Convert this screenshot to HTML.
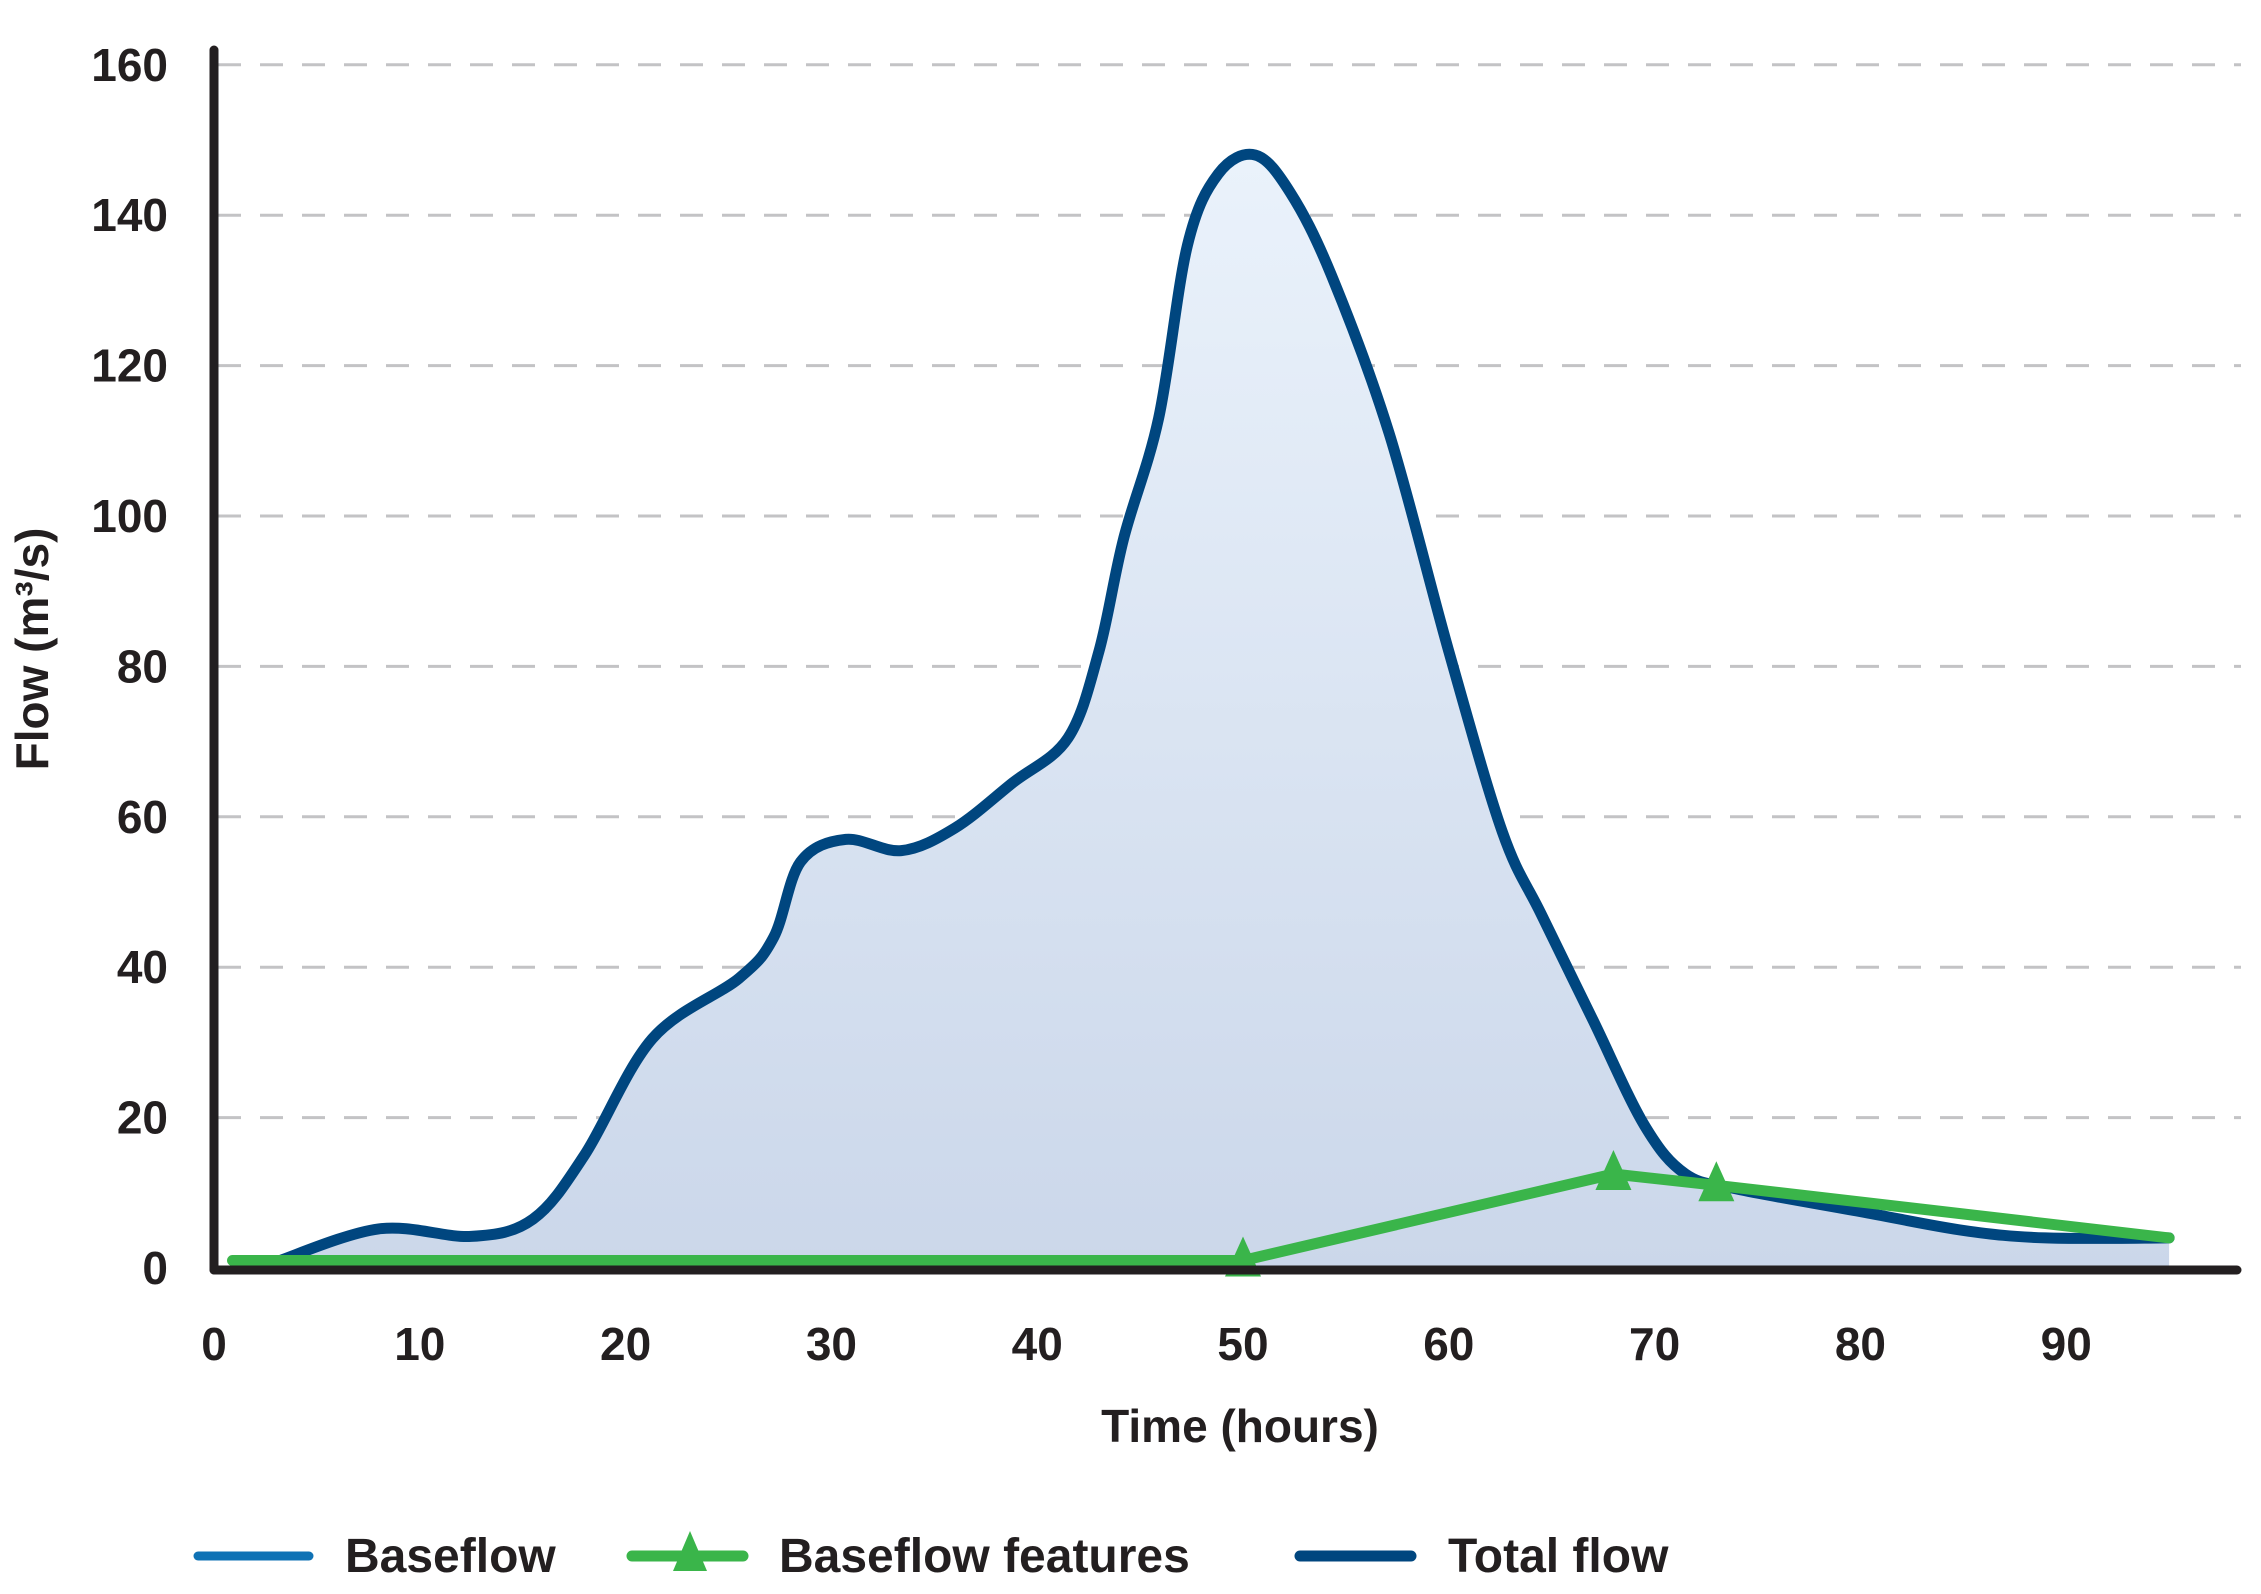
<!DOCTYPE html>
<html><head><meta charset="utf-8"><style>
html,body{margin:0;padding:0;background:#fff}
svg{display:block}
text{font-family:"Liberation Sans",sans-serif;fill:#231f20;font-weight:bold}
</style></head><body>
<svg id="chart" width="2261" height="1594" viewBox="0 0 2261 1594">
<defs>
<linearGradient id="fillGrad" x1="0" y1="0" x2="0" y2="1">
<stop offset="0" stop-color="#eaf2fb"/><stop offset="1" stop-color="#cbd7ea"/>
</linearGradient>
</defs>
<g id="grid"></g>
<path id="area" fill="url(#fillGrad)"/>
<path id="total" fill="none" stroke="#00467f" stroke-width="11" stroke-linejoin="round" stroke-linecap="round"/>
<path id="base" fill="none" stroke="#3ab54a" stroke-width="11" stroke-linejoin="round" stroke-linecap="round"/>
<g id="markers"></g>
<line x1="214" y1="50" x2="214" y2="1270" stroke="#231f20" stroke-width="9" stroke-linecap="round"/>
<line x1="214" y1="1270" x2="2237" y2="1270" stroke="#231f20" stroke-width="9" stroke-linecap="round"/>
<g id="yticks"></g>
<g id="xticks"></g>
<text x="1240" y="1442" font-size="46" text-anchor="middle">Time (hours)</text>
<text transform="translate(48,649) rotate(-90)" font-size="46" text-anchor="middle">Flow (m³/s)</text>
<g>
<g>
<line x1="198" y1="1556" x2="309" y2="1556" stroke="#0f72b5" stroke-width="9" stroke-linecap="round"/>
<text x="345" y="1572" font-size="48">Baseflow</text></g>
<g>
<line x1="632" y1="1556" x2="743" y2="1556" stroke="#3ab54a" stroke-width="11" stroke-linecap="round"/>
<polygon points="690,1531 707,1571 673,1571" fill="#3ab54a"/>
<text x="779" y="1572" font-size="48">Baseflow features</text></g>
<g>
<line x1="1300" y1="1556" x2="1411" y2="1556" stroke="#00467f" stroke-width="11" stroke-linecap="round"/>
<text x="1448" y="1572" font-size="48">Total flow</text></g>
</g>
</svg>
<script>
const totalT = [3,8,12.5,15.5,18,21.3,25.5,27.2,28.5,30.7,33.4,36,38.8,41.5,43,44.2,45.9,47.3,48.8,50.6,52.3,54.3,57.1,60,62.6,64.5,67,69.5,71.5,74,80,85,89,95];
const totalV = [0.8,5.2,4.2,6.5,15,30.5,38.5,44,54,57,55.5,58.5,64.5,70.5,82,97,113,136,145.5,148,143,132,111,82,58,47,33,19,12.5,10.5,7.5,5,4,4];
const baseT = [0.9,50,68,73,95];
const baseV = [1,1,12.5,11,4];
const markerT = [50,68,73];
const markerV = [1,12.5,11];
const yTicks = [0,20,40,60,80,100,120,140,160];
const xTicks = [0,10,20,30,40,50,60,70,80,90];

const X = t => 214 + t*20.58;
const Y = v => 1268 - v*7.52;
const NS='http://www.w3.org/2000/svg';

function smooth(px){
  let d='M'+px[0][0]+','+px[0][1];
  for(let i=0;i<px.length-1;i++){
    const p0=px[Math.max(0,i-1)],p1=px[i],p2=px[i+1],p3=px[Math.min(px.length-1,i+2)];
    const c1=[p1[0]+(p2[0]-p0[0])/6,p1[1]+(p2[1]-p0[1])/6];
    const c2=[p2[0]-(p3[0]-p1[0])/6,p2[1]-(p3[1]-p1[1])/6];
    d+=` C${c1[0]},${c1[1]} ${c2[0]},${c2[1]} ${p2[0]},${p2[1]}`;
  }
  return d;
}
const tp = totalT.map((t,i)=>[X(t),Y(totalV[i])]);
const td = smooth(tp);
document.getElementById('total').setAttribute('d', td);
const xs=X(baseT[0]), xe=X(baseT[baseT.length-1]);
document.getElementById('area').setAttribute('d', `M${xs},${Y(0)} L${xs},${Y(baseV[0])} L${tp[0][0]},${tp[0][1]} `+td.slice(1).replace(/^[^C]*/,'')+` L${xe},${Y(baseV[baseV.length-1])} L${xe},${Y(0)} Z`);
document.getElementById('base').setAttribute('d', baseT.map((t,i)=>(i?'L':'M')+X(t)+','+Y(baseV[i])).join(' '));

const mg=document.getElementById('markers');
markerT.forEach((t,i)=>{
  const p=document.createElementNS(NS,'polygon');
  const x=X(t), y=Y(markerV[i]);
  p.setAttribute('points',`${x},${y-24} ${x+18},${y+16} ${x-18},${y+16}`);
  p.setAttribute('fill','#3ab54a');
  
  
  mg.appendChild(p);
});
const gg=document.getElementById('grid'), yg=document.getElementById('yticks'), xg=document.getElementById('xticks');
yTicks.forEach(v=>{
  if(v>0){
    const l=document.createElementNS(NS,'line');
    l.setAttribute('x1',218);l.setAttribute('x2',2241);
    l.setAttribute('y1',Y(v));l.setAttribute('y2',Y(v));
    l.setAttribute('stroke','#c3c3c5');l.setAttribute('stroke-width','3');
    l.setAttribute('stroke-dasharray','23 19');
    
    
    gg.appendChild(l);
  }
  const tx=document.createElementNS(NS,'text');
  tx.setAttribute('x',168);tx.setAttribute('y',Y(v)+16);
  tx.setAttribute('text-anchor','end');tx.setAttribute('font-size','46');
  tx.textContent=v;
  
  
  yg.appendChild(tx);
});
xTicks.forEach(t=>{
  const tx=document.createElementNS(NS,'text');
  tx.setAttribute('x',X(t));tx.setAttribute('y',1360);
  tx.setAttribute('text-anchor','middle');tx.setAttribute('font-size','46');
  tx.textContent=t;
  
  
  xg.appendChild(tx);
});
</script>
</body></html>
